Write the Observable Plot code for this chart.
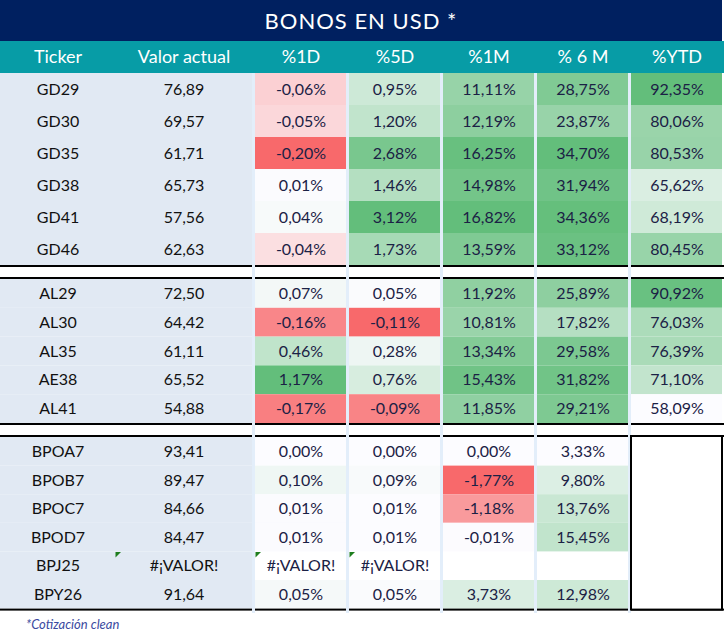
<!DOCTYPE html>
<html><head><meta charset="utf-8">
<script src="https://cdn.jsdelivr.net/npm/d3@7"></script>
<script src="https://cdn.jsdelivr.net/npm/@observablehq/plot@0.6"></script>
<style>
body{margin:0;background:#fff;font-family:Lato,sans-serif;}
#title{width:722px;height:41px;background:#002060;color:#fff;font-size:22px;line-height:42px;text-align:center;letter-spacing:1px;}
#chart svg{display:block;}
#note{width:724px;height:25px;font-size:13px;font-style:italic;color:#3b4aa0;padding-left:26px;line-height:22px;box-sizing:border-box;}
</style></head><body>
<div id="title"></div>
<div id="chart"></div>
<div id="note"></div>
<script>
// ---- data ----
const titleText = "BONOS EN USD *";
const noteText = "*Cotización clean";
const headers = ["Ticker", "Valor actual", "%1D", "%5D", "%1M", "% 6 M", "%YTD"];
const tickers = ["GD29","GD30","GD35","GD38","GD41","GD46","AL29","AL30","AL35","AE38","AL41","BPOA7","BPOB7","BPOC7","BPOD7","BPJ25","BPY26"];
const groups  = [1,1,1,1,1,1,2,2,2,2,2,3,3,3,3,3,3];
const ERR = "#¡VALOR!";
const valor = [76.89,69.57,61.71,65.73,57.56,62.63,72.50,64.42,61.11,65.52,54.88,93.41,89.47,84.66,84.47,ERR,91.64];
const d1  = [-0.06,-0.05,-0.20,0.01,0.04,-0.04,0.07,-0.16,0.46,1.17,-0.17,0.00,0.10,0.01,0.01,ERR,0.05];
const d5  = [0.95,1.20,2.68,1.46,3.12,1.73,0.05,-0.11,0.28,0.76,-0.09,0.00,0.09,0.01,0.01,ERR,0.05];
const m1  = [11.11,12.19,16.25,14.98,16.82,13.59,11.92,10.81,13.34,15.43,11.85,0.00,-1.77,-1.18,-0.01,null,3.73];
const m6  = [28.75,23.87,34.70,31.94,34.36,33.12,25.89,17.82,29.58,31.82,29.21,3.33,9.80,13.76,15.45,null,12.98];
const ytd = [92.35,80.06,80.53,65.62,68.19,80.45,90.92,76.03,76.39,71.10,58.09,null,null,null,null,null,null];

document.getElementById("title").textContent = titleText;
document.getElementById("note").textContent = noteText;

// ---- layout ----
const W = 724;
const colEdges = [[0,115],[115,252],[255,346],[349,440],[443,534],[537,628],[631,722]];
const gaps = [[252,255],[346,349],[440,443],[534,537],[628,631]];
const headerH = 32;
const rowH = {1: 32, 2: 28.8, 3: 28.6};
const sepH = [14, 14];
const LW = 2;

let yy = headerH, g = 0;
const rows = [];
const sepLines = [];
tickers.forEach((t, i) => {
  if (i > 0 && groups[i] !== groups[i-1]) {
    sepLines.push({y1: yy, y2: yy + LW});
    sepLines.push({y1: yy + sepH[g] - LW, y2: yy + sepH[g]});
    yy += sepH[g]; g++;
  }
  rows.push({i, y1: yy, y2: yy + rowH[groups[i]]});
  yy += rowH[groups[i]];
});
const bottom = yy;
sepLines.push({y1: bottom, y2: bottom + LW});
const H = Math.ceil(bottom + 4);

const cols = [tickers, valor, d1, d5, m1, m6, ytd];
const fmtNum = v => v.toFixed(2).replace(".", ",");

// per-column normalisation for the 3-colour heat scale
const norm = cols.map((arr, j) => {
  if (j < 2) return null;
  const nums = arr.filter(v => typeof v === "number");
  const lo = d3.min(nums), hi = d3.max(nums), mid = Math.max(0, lo);
  return v => v >= mid ? (v - mid) / (hi - mid) : -(mid - v) / (mid - lo);
});

const cells = [];
rows.forEach(r => {
  cols.forEach((arr, j) => {
    const v = arr[r.i];
    const [x1, x2] = colEdges[j];
    const c = {x1, x2, y1: r.y1, y2: r.y2, j, row: r.i};
    if (j === 0) { c.text = v; c.kind = "panel"; }
    else if (j === 1) { c.text = typeof v === "number" ? fmtNum(v) : v; c.kind = "panel"; c.err = v === ERR; }
    else if (typeof v === "number") { c.text = fmtNum(v) + "%"; c.kind = "heat"; c.t = norm[j](v); }
    else if (v === ERR) { c.text = v; c.kind = "blank"; c.err = true; }
    else { c.text = ""; c.kind = "blank"; }
    cells.push(c);
  });
});

const heads = headers.map((h, j) => ({h, x: (colEdges[j][0] + colEdges[j][1]) / 2}));

// YTD empty box for the last group
const lastGroupRows = rows.filter(r => groups[r.i] === 3);
const ytdBox = [{x1: colEdges[6][0], x2: colEdges[6][1], y1: sepLines[3].y1 + 1, y2: bottom + 1}];

const triangle = {
  draw(context, size) {
    const s = Math.sqrt(size / Math.PI);
    context.moveTo(0, 0); context.lineTo(s, 0); context.lineTo(0, s); context.closePath();
  }
};

const chart = Plot.plot({
  width: W, height: H,
  margin: 0, marginTop: 0, marginRight: 0, marginBottom: 0, marginLeft: 0,
  x: {type: "linear", domain: [0, W], range: [0, W], axis: null},
  y: {type: "linear", domain: [0, H], range: [0, H], axis: null},
  color: {type: "linear", domain: [-1, 0, 1], range: ["#F8696B", "#FCFCFF", "#63BE7B"], interpolate: "rgb"},
  style: {fontFamily: "Lato, sans-serif", background: "#fff"},
  marks: [
    Plot.rect([{x1: 0, x2: W, y1: 0, y2: headerH}], {x1: "x1", x2: "x2", y1: "y1", y2: "y2", fill: "#079CA6"}),
    Plot.text(heads, {x: "x", y: () => headerH / 2, text: "h", fill: "#fff", fontSize: 18}),
    Plot.rect(cells.filter(c => c.kind === "panel"), {x1: "x1", x2: "x2", y1: "y1", y2: "y2", fill: "#E1E9F3"}),
    Plot.rect(cells.filter(c => c.kind === "heat"), {x1: "x1", x2: "x2", y1: "y1", y2: "y2", fill: "t"}),
    Plot.rect(sepLines, {x1: () => 0, x2: () => W, y1: "y1", y2: "y2", fill: "#000"}),
    Plot.rect(gaps, {x1: d => d[0], x2: d => d[1], y1: () => headerH, y2: () => H, fill: "#E3EEFA"}),
    Plot.rect(ytdBox, {x1: "x1", x2: "x2", y1: "y1", y2: "y2", fill: "#fff", stroke: "#000", strokeWidth: 2}),
    Plot.text(cells.filter(c => c.j < 2), {x: d => (d.x1 + d.x2) / 2, y: d => (d.y1 + d.y2) / 2, text: "text", fill: "#111", fontSize: 16}),
    Plot.text(cells.filter(c => c.j >= 2 && c.text), {x: d => (d.x1 + d.x2) / 2, y: d => (d.y1 + d.y2) / 2, text: "text", fill: "#1B2145", fontSize: 16}),
    Plot.dot(cells.filter(c => c.err), {x: "x1", y: "y1", symbol: triangle, r: 5.5, fill: "#1E7E1E", stroke: null})
  ]
});
document.getElementById("chart").appendChild(chart);
</script>
</body></html>
